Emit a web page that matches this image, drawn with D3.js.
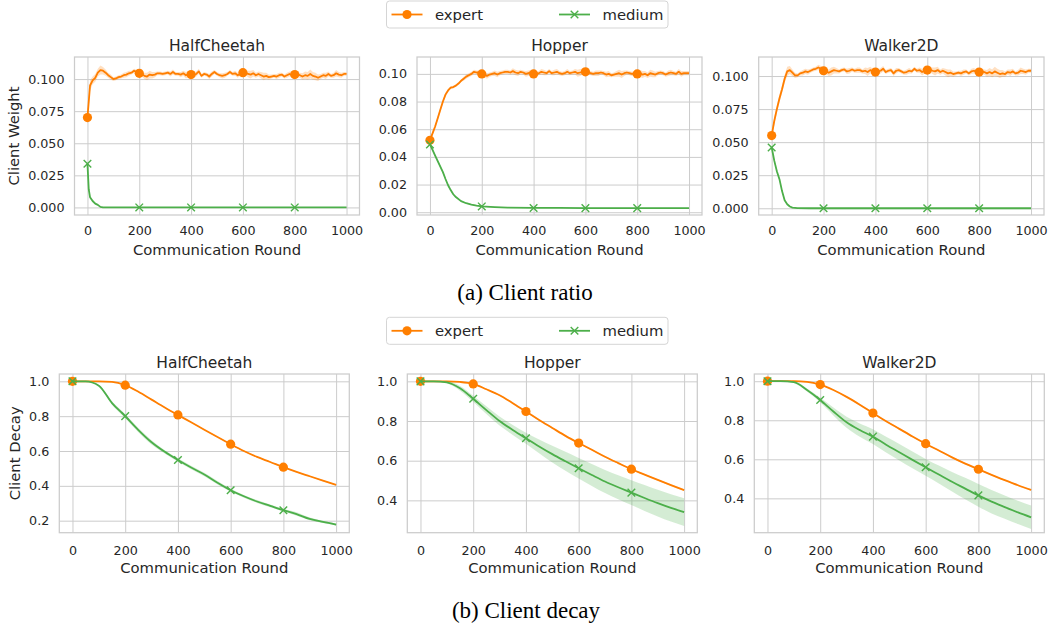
<!DOCTYPE html>
<html>
<head>
<meta charset="utf-8">
<script src="https://cdn.jsdelivr.net/npm/d3@7"></script>
<style>
  body { margin: 0; background: #fff; }
</style>
</head>
<body>
<div id="container"></div>
<script>
let w = 1050;
let h = 629;

// COLORS
const orange = "#ff7f00";
const green = "#4daf4a";
const textColor = "#262626";
const gridColor = "#cccccc";
const font = "'DejaVu Sans', sans-serif";

// DATA
const seriesNames = ["expert", "medium"];
const envNames = ["HalfCheetah", "Hopper", "Walker2D"];
const roundTicks = [0, 200, 400, 600, 800, 1000];
const markerRounds = [0, 200, 400, 600, 800];
const weightTicks3 = [0, 0.025, 0.05, 0.075, 0.1];
const weightTicks2 = [0, 0.02, 0.04, 0.06, 0.08, 0.1];
const decayTicksA = [0.2, 0.4, 0.6, 0.8, 1.0];
const decayTicksB = [0.4, 0.6, 0.8, 1.0];

// (a) client ratio, expert, every 10 rounds
const ratioRounds = d3.range(0, 1001, 10);
const hcRatioExpert = [
  0.070, 0.095, 0.099, 0.101, 0.105, 0.107, 0.1065, 0.105, 0.103, 0.1015,
  0.100, 0.1005, 0.1015, 0.102, 0.103, 0.1035, 0.1045, 0.105, 0.1065, 0.1055,
  0.1045, 0.104, 0.1025, 0.102, 0.1035, 0.103, 0.1035, 0.1045, 0.1045, 0.104,
  0.1045, 0.105, 0.104, 0.1055, 0.104, 0.104, 0.1035, 0.1045, 0.103, 0.1035,
  0.1035, 0.103, 0.104, 0.106, 0.1025, 0.104, 0.1035, 0.102, 0.104, 0.1055,
  0.104, 0.103, 0.1025, 0.103, 0.104, 0.1055, 0.104, 0.1045, 0.103, 0.104,
  0.105, 0.105, 0.104, 0.1035, 0.1045, 0.103, 0.104, 0.103, 0.102, 0.1025,
  0.1015, 0.102, 0.1025, 0.102, 0.103, 0.1035, 0.102, 0.103, 0.104, 0.103,
  0.1035, 0.1035, 0.103, 0.102, 0.103, 0.1025, 0.104, 0.1025, 0.102, 0.101,
  0.102, 0.103, 0.1025, 0.104, 0.1025, 0.103, 0.1045, 0.1035, 0.103, 0.104,
  0.104];
const hcRatioExpertStd = [
  0.004, 0.004, 0.003, 0.003, 0.003, 0.0035, 0.003, 0.0025, 0.002, 0.002,
  0.0015, 0.0015, 0.0015, 0.0015, 0.002, 0.002, 0.002, 0.0015, 0.0015, 0.0015,
  0.0015, 0.002, 0.0025, 0.003, 0.003, 0.0025, 0.002, 0.0015, 0.0015, 0.0015,
  0.0015, 0.0015, 0.002, 0.002, 0.0015, 0.0015, 0.002, 0.002, 0.0025, 0.002,
  0.0015, 0.0015, 0.002, 0.002, 0.0015, 0.0015, 0.0015, 0.002, 0.002, 0.0015,
  0.0015, 0.0015, 0.002, 0.002, 0.0015, 0.0015, 0.0015, 0.002, 0.002, 0.0015,
  0.0015, 0.002, 0.0025, 0.003, 0.0025, 0.002, 0.002, 0.0025, 0.003, 0.0025,
  0.002, 0.0015, 0.0015, 0.002, 0.002, 0.0015, 0.0015, 0.002, 0.002, 0.0015,
  0.0015, 0.002, 0.002, 0.0025, 0.003, 0.003, 0.0035, 0.003, 0.003, 0.0025,
  0.002, 0.002, 0.0025, 0.002, 0.0015, 0.002, 0.0025, 0.002, 0.002, 0.0015,
  0.0015];
const hopperRatioExpert = [
  0.052, 0.057, 0.062, 0.068, 0.074, 0.080, 0.085, 0.088, 0.090, 0.0905,
  0.0915, 0.093, 0.095, 0.0965, 0.098, 0.099, 0.100, 0.1015, 0.101, 0.101,
  0.100, 0.0995, 0.0985, 0.0995, 0.100, 0.1005, 0.0995, 0.1005, 0.101, 0.1015,
  0.1015, 0.101, 0.102, 0.101, 0.1005, 0.1015, 0.101, 0.100, 0.1005, 0.1015,
  0.100, 0.0995, 0.1005, 0.1015, 0.101, 0.1005, 0.102, 0.1005, 0.101, 0.1015,
  0.1005, 0.100, 0.1005, 0.1015, 0.1005, 0.101, 0.1015, 0.1005, 0.101, 0.1015,
  0.1015, 0.101, 0.1005, 0.100, 0.1005, 0.1005, 0.101, 0.1005, 0.0995, 0.100,
  0.099, 0.0995, 0.100, 0.1005, 0.0995, 0.1005, 0.101, 0.1005, 0.100, 0.1005,
  0.100, 0.1005, 0.0995, 0.100, 0.099, 0.1005, 0.100, 0.0995, 0.1005, 0.101,
  0.1005, 0.0995, 0.1005, 0.101, 0.1005, 0.100, 0.1015, 0.100, 0.1005, 0.1005,
  0.1005];
const hopperRatioExpertStd = [
  0.001, 0.0015, 0.0015, 0.0015, 0.0015, 0.0015, 0.0015, 0.001, 0.001, 0.001,
  0.001, 0.001, 0.001, 0.0015, 0.0015, 0.0015, 0.0015, 0.0015, 0.0015, 0.0015,
  0.0015, 0.002, 0.002, 0.0015, 0.0015, 0.002, 0.002, 0.0015, 0.0015, 0.0015,
  0.0015, 0.0015, 0.002, 0.002, 0.002, 0.0015, 0.0015, 0.002, 0.002, 0.0015,
  0.0015, 0.0015, 0.0015, 0.002, 0.002, 0.0015, 0.0015, 0.0015, 0.002, 0.002,
  0.0015, 0.0015, 0.0015, 0.002, 0.0015, 0.0015, 0.002, 0.0025, 0.0025, 0.002,
  0.0015, 0.0015, 0.0015, 0.0015, 0.002, 0.002, 0.0015, 0.0015, 0.002, 0.002,
  0.0015, 0.0015, 0.002, 0.0025, 0.0025, 0.002, 0.0015, 0.0015, 0.0015, 0.002,
  0.002, 0.0025, 0.0025, 0.002, 0.002, 0.0025, 0.0025, 0.002, 0.0015, 0.0015,
  0.0015, 0.0015, 0.002, 0.002, 0.0015, 0.0015, 0.002, 0.002, 0.0015, 0.0015,
  0.0015];
const walkerRatioExpert = [
  0.055, 0.066, 0.075, 0.083, 0.090, 0.098, 0.1035, 0.1045, 0.1025, 0.1005,
  0.1005, 0.102, 0.1025, 0.1035, 0.103, 0.104, 0.105, 0.1055, 0.1065, 0.1055,
  0.104, 0.1035, 0.1025, 0.1035, 0.1045, 0.104, 0.1035, 0.1045, 0.105, 0.1035,
  0.104, 0.105, 0.104, 0.1045, 0.1045, 0.1035, 0.104, 0.103, 0.1045, 0.1035,
  0.103, 0.1035, 0.104, 0.1055, 0.103, 0.104, 0.1045, 0.102, 0.104, 0.1045,
  0.1035, 0.1025, 0.103, 0.104, 0.1035, 0.1055, 0.104, 0.1045, 0.103, 0.104,
  0.1045, 0.105, 0.104, 0.1035, 0.1045, 0.103, 0.104, 0.103, 0.102, 0.1025,
  0.1015, 0.102, 0.1025, 0.102, 0.103, 0.1035, 0.102, 0.1035, 0.104, 0.103,
  0.103, 0.1035, 0.103, 0.102, 0.103, 0.102, 0.1035, 0.1025, 0.1015, 0.102,
  0.1015, 0.103, 0.1025, 0.1035, 0.102, 0.1025, 0.104, 0.1035, 0.103, 0.104,
  0.104];
const walkerRatioExpertStd = [
  0.002, 0.003, 0.003, 0.003, 0.003, 0.003, 0.0035, 0.003, 0.0025, 0.002,
  0.0015, 0.0015, 0.002, 0.002, 0.002, 0.0015, 0.0015, 0.0015, 0.002, 0.002,
  0.0015, 0.002, 0.0025, 0.003, 0.0025, 0.002, 0.0015, 0.0015, 0.0015, 0.002,
  0.002, 0.0015, 0.0015, 0.002, 0.002, 0.0015, 0.0025, 0.003, 0.0025, 0.002,
  0.0015, 0.0015, 0.002, 0.002, 0.0015, 0.0015, 0.0015, 0.002, 0.002, 0.0015,
  0.0015, 0.0015, 0.002, 0.002, 0.0015, 0.0015, 0.0015, 0.002, 0.0025, 0.002,
  0.0015, 0.002, 0.0025, 0.003, 0.0025, 0.002, 0.002, 0.0025, 0.003, 0.0025,
  0.002, 0.0015, 0.0015, 0.002, 0.002, 0.0015, 0.0015, 0.002, 0.002, 0.0015,
  0.0015, 0.002, 0.002, 0.0025, 0.003, 0.003, 0.0035, 0.003, 0.003, 0.0025,
  0.002, 0.002, 0.0025, 0.002, 0.0015, 0.002, 0.0025, 0.002, 0.002, 0.0015,
  0.0015];

// (a) client ratio, medium
const hcMediumRounds = [0, 5, 10, 20, 30, 40, 50, 60, 100, 200, 400, 600, 800, 1000];
const hcRatioMedium = [0.034, 0.014, 0.008, 0.005, 0.003, 0.002, 0.0004, 0, 0, 0, 0, 0, 0, 0];
const hcRatioMediumStd = [0.001, 0.001, 0.0008, 0.0005, 0.0004, 0.0003, 0.0002, 0, 0, 0, 0, 0, 0, 0];
const hopperMediumRounds = [0, 10, 20, 30, 40, 50, 60, 70, 80, 90, 100, 120, 140, 160, 180, 200, 250, 300, 400, 500, 600, 700, 800, 900, 1000];
const hopperRatioMedium = [0.049, 0.045, 0.041, 0.037, 0.033, 0.029, 0.024, 0.0195, 0.016, 0.013, 0.011, 0.008, 0.0065, 0.0055, 0.0048, 0.0042, 0.0037, 0.0034, 0.0031, 0.0031, 0.003, 0.003, 0.003, 0.003, 0.003];
const hopperRatioMediumStd = [0.001, 0.001, 0.001, 0.001, 0.001, 0.001, 0.0008, 0.0008, 0.0006, 0.0005, 0.0005, 0.0004, 0.0003, 0.0003, 0.0003, 0.0003, 0.0002, 0.0002, 0.0002, 0.0002, 0.0002, 0.0002, 0.0002, 0.0002, 0.0002];
const walkerMediumRounds = [0, 5, 10, 20, 30, 40, 50, 60, 70, 80, 100, 150, 200, 400, 600, 800, 1000];
const walkerRatioMedium = [0.046, 0.041, 0.036, 0.028, 0.022, 0.013, 0.006, 0.003, 0.0013, 0.0005, 0.0001, 0, 0, 0, 0, 0, 0];
const walkerRatioMediumStd = [0.001, 0.001, 0.001, 0.001, 0.001, 0.0008, 0.0006, 0.0004, 0.0003, 0.0002, 0, 0, 0, 0, 0, 0, 0];

// (b) client decay, every 50 rounds
const decayRounds = d3.range(0, 1001, 50);
const hcDecayExpert = [1.0, 1.0, 1.0, 0.997, 0.978, 0.94, 0.895, 0.85, 0.807, 0.765, 0.722, 0.68, 0.639, 0.60, 0.566, 0.537, 0.507, 0.48, 0.455, 0.43, 0.405];
const hcDecayExpertStd = [0, 0, 0, 0.001, 0.002, 0.003, 0.003, 0.003, 0.003, 0.003, 0.003, 0.003, 0.003, 0.003, 0.003, 0.003, 0.003, 0.003, 0.003, 0.003, 0.003];
const hcDecayMedium = [1.0, 1.0, 0.975, 0.875, 0.80, 0.72, 0.65, 0.595, 0.548, 0.505, 0.465, 0.418, 0.375, 0.34, 0.31, 0.285, 0.26, 0.238, 0.21, 0.193, 0.178];
const hcDecayMediumStd = [0, 0, 0.004, 0.01, 0.012, 0.012, 0.012, 0.01, 0.01, 0.01, 0.01, 0.01, 0.008, 0.008, 0.008, 0.008, 0.008, 0.01, 0.008, 0.007, 0.006];
const hopperDecayExpert = [1.0, 1.0, 1.0, 0.997, 0.987, 0.96, 0.93, 0.89, 0.848, 0.805, 0.765, 0.725, 0.689, 0.655, 0.62, 0.588, 0.557, 0.53, 0.503, 0.477, 0.452];
const hopperDecayExpertStd = [0, 0, 0, 0.001, 0.002, 0.003, 0.004, 0.004, 0.004, 0.004, 0.004, 0.004, 0.004, 0.004, 0.004, 0.004, 0.004, 0.004, 0.004, 0.004, 0.004];
const hopperDecayMedium = [1.0, 1.0, 0.995, 0.965, 0.912, 0.855, 0.80, 0.755, 0.713, 0.672, 0.633, 0.597, 0.562, 0.528, 0.495, 0.466, 0.439, 0.412, 0.386, 0.362, 0.341];
const hopperDecayMediumStd = [0, 0, 0.005, 0.012, 0.015, 0.02, 0.023, 0.025, 0.028, 0.035, 0.042, 0.048, 0.052, 0.055, 0.058, 0.06, 0.062, 0.065, 0.067, 0.069, 0.07];
const walkerDecayExpert = [1.0, 1.0, 1.0, 0.997, 0.983, 0.955, 0.92, 0.88, 0.837, 0.795, 0.756, 0.717, 0.68, 0.645, 0.61, 0.578, 0.549, 0.52, 0.493, 0.467, 0.443];
const walkerDecayExpertStd = [0, 0, 0, 0.001, 0.002, 0.003, 0.004, 0.004, 0.004, 0.004, 0.004, 0.004, 0.004, 0.004, 0.004, 0.004, 0.004, 0.004, 0.004, 0.004, 0.004];
const walkerDecayMedium = [1.0, 1.0, 0.995, 0.955, 0.904, 0.845, 0.79, 0.75, 0.716, 0.675, 0.636, 0.597, 0.559, 0.522, 0.485, 0.45, 0.415, 0.383, 0.355, 0.328, 0.303];
const walkerDecayMediumStd = [0, 0, 0.004, 0.008, 0.012, 0.02, 0.028, 0.034, 0.038, 0.04, 0.042, 0.043, 0.043, 0.046, 0.05, 0.055, 0.058, 0.06, 0.06, 0.06, 0.06];

// SVG
let viz = d3.select("#container").append("svg")
    .attr("width", w)
    .attr("height", h)
    .style("background-color", "white")
    .style("font-family", font)
;

// panel layout
let topRow = {y0: 57, y1: 215, xPad: 11, xlabelDy: 39.5, ylabelX: 19, curve: d3.curveLinear};
let botRow = {y0: 374, y1: 532.7, xPad: 13, xlabelDy: 40.5, ylabelX: 20, curve: d3.curveMonotoneX};

let panels = [
  {row: topRow, title: envNames[0], x0: 74.5, x1: 359.5, yDomain: [-0.0059, 0.1172], yTicks: weightTicks3, fmt: ".3f", ylabel: "Client Weight",
   series: [[ratioRounds, hcRatioExpert, hcRatioExpertStd], [hcMediumRounds, hcRatioMedium, hcRatioMediumStd]]},
  {row: topRow, title: envNames[1], x0: 417, x1: 702, yDomain: [-0.002, 0.1122], yTicks: weightTicks2, fmt: ".2f",
   series: [[ratioRounds, hopperRatioExpert, hopperRatioExpertStd], [hopperMediumRounds, hopperRatioMedium, hopperRatioMediumStd]]},
  {row: topRow, title: envNames[2], x0: 758.7, x1: 1044, yDomain: [-0.0051, 0.1144], yTicks: weightTicks3, fmt: ".3f",
   series: [[ratioRounds, walkerRatioExpert, walkerRatioExpertStd], [walkerMediumRounds, walkerRatioMedium, walkerRatioMediumStd]]},
  {row: botRow, title: envNames[0], x0: 59.3, x1: 349.3, yDomain: [0.131, 1.042], yTicks: decayTicksA, fmt: ".1f", ylabel: "Client Decay",
   series: [[decayRounds, hcDecayExpert, hcDecayExpertStd], [decayRounds, hcDecayMedium, hcDecayMediumStd]]},
  {row: botRow, title: envNames[1], x0: 407.3, x1: 697.3, yDomain: [0.237, 1.037], yTicks: decayTicksB, fmt: ".1f",
   series: [[decayRounds, hopperDecayExpert, hopperDecayExpertStd], [decayRounds, hopperDecayMedium, hopperDecayMediumStd]]},
  {row: botRow, title: envNames[2], x0: 754.3, x1: 1044.3, yDomain: [0.224, 1.037], yTicks: decayTicksB, fmt: ".1f",
   series: [[decayRounds, walkerDecayExpert, walkerDecayExpertStd], [decayRounds, walkerDecayMedium, walkerDecayMediumStd]]}
];

const seriesColors = [orange, green];

function drawMarker(g, kind, cx, cy, color) {
  if (kind == 0) {
    g.append("circle").attr("cx", cx).attr("cy", cy).attr("r", 4.6).attr("fill", color);
  } else {
    let s = 3.8;
    g.append("path")
      .attr("d", `M${cx-s},${cy-s}L${cx+s},${cy+s}M${cx-s},${cy+s}L${cx+s},${cy-s}`)
      .attr("stroke", color).attr("stroke-width", 1.4).attr("fill", "none");
  }
}

function drawPanel(p) {
  let r = p.row;
  let g = viz.append("g");
  let x = d3.scaleLinear().domain([-50, 1050]).range([p.x0, p.x1]);
  let y = d3.scaleLinear().domain(p.yDomain).range([r.y1, r.y0]);

  // grid + tick labels from axes
  let gx = g.append("g").attr("transform", `translate(0,${r.y1})`)
    .call(d3.axisBottom(x).tickValues(roundTicks).tickFormat(d3.format("d"))
      .tickSize(-(r.y1 - r.y0)).tickPadding(r.xPad));
  let gy = g.append("g").attr("transform", `translate(${p.x0},0)`)
    .call(d3.axisLeft(y).tickValues(p.yTicks).tickFormat(d3.format(p.fmt))
      .tickSize(-(p.x1 - p.x0)).tickPadding(10));
  [gx, gy].forEach(function(a){
    a.attr("font-family", font).attr("font-size", 12.7);
    a.select(".domain").remove();
    a.selectAll(".tick line").attr("stroke", gridColor).attr("stroke-width", 1);
    a.selectAll(".tick text").attr("fill", textColor);
  });

  // frame
  g.append("rect")
    .attr("x", p.x0).attr("y", r.y0)
    .attr("width", p.x1 - p.x0).attr("height", r.y1 - r.y0)
    .attr("fill", "none").attr("stroke", gridColor).attr("stroke-width", 1.25);

  // series: line, band, markers
  p.series.forEach(function(s, k){
    let pts = s[0].map(function(d, i){ return {r: d, m: s[1][i], sd: s[2][i]}; });
    let lineMaker = d3.line().x(d => x(d.r)).y(d => y(d.m)).curve(r.curve);
    let areaMaker = d3.area().x(d => x(d.r)).y0(d => y(d.m - d.sd)).y1(d => y(d.m + d.sd)).curve(r.curve);
    g.append("path").datum(pts)
      .attr("d", lineMaker).attr("fill", "none")
      .attr("stroke", seriesColors[k]).attr("stroke-width", 1.8).attr("stroke-linejoin", "round");
    g.append("path").datum(pts)
      .attr("d", areaMaker).attr("fill", seriesColors[k]).attr("fill-opacity", 0.24).attr("stroke", "none");
    pts.filter(d => markerRounds.includes(d.r)).forEach(function(d){
      drawMarker(g, k, x(d.r), y(d.m), seriesColors[k]);
    });
  });

  // title and labels
  let cx = (p.x0 + p.x1) / 2;
  g.append("text").attr("x", cx).attr("y", r.y0 - 6.5)
    .attr("text-anchor", "middle").attr("fill", textColor).style("font-size", "15.5px")
    .text(p.title);
  g.append("text").attr("x", cx).attr("y", r.y1 + r.xlabelDy)
    .attr("text-anchor", "middle").attr("fill", textColor).style("font-size", "14.8px")
    .text("Communication Round");
  if (p.ylabel) {
    g.append("text")
      .attr("transform", `translate(${r.ylabelX},${(r.y0 + r.y1) / 2}) rotate(-90)`)
      .attr("text-anchor", "middle").attr("fill", textColor).style("font-size", "14.8px")
      .text(p.ylabel);
  }
}

panels.forEach(drawPanel);

// LEGENDS
function drawLegend(top) {
  let g = viz.append("g").attr("transform", `translate(386.5,${top})`);
  g.append("rect").attr("width", 281.5).attr("height", 27).attr("rx", 3)
    .attr("fill", "white").attr("stroke", "#d5d5d5").attr("stroke-width", 1);
  let itemX = [5, 172.5];
  seriesNames.forEach(function(name, k){
    let x0 = itemX[k];
    g.append("line").attr("x1", x0).attr("x2", x0 + 31).attr("y1", 13.5).attr("y2", 13.5)
      .attr("stroke", seriesColors[k]).attr("stroke-width", 1.8);
    drawMarker(g, k, x0 + 15.5, 13.5, seriesColors[k]);
    g.append("text").attr("x", x0 + 43.5).attr("y", 18.5)
      .attr("fill", textColor).style("font-size", "14.8px").text(name);
  });
}
drawLegend(1);
drawLegend(317.3);

// CAPTIONS
viz.append("text").attr("x", 525).attr("y", 300).attr("text-anchor", "middle")
  .style("font-family", "'Liberation Serif', 'Times New Roman', serif").style("font-size", "23px")
  .attr("fill", "black").text("(a) Client ratio");
viz.append("text").attr("x", 526).attr("y", 618).attr("text-anchor", "middle")
  .style("font-family", "'Liberation Serif', 'Times New Roman', serif").style("font-size", "23px")
  .attr("fill", "black").text("(b) Client decay");
</script>
</body>
</html>
